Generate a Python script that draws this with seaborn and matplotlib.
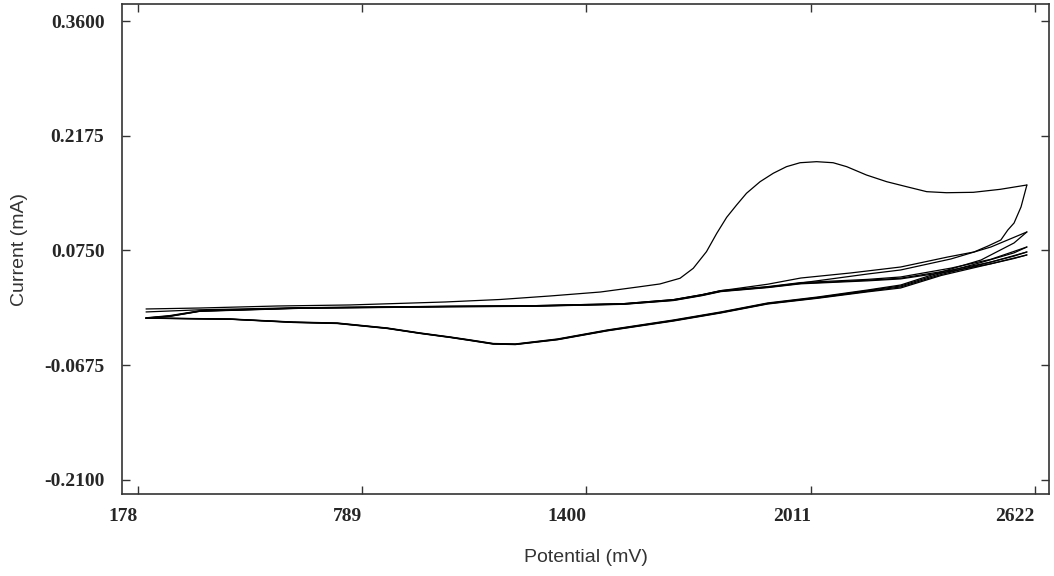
import matplotlib
matplotlib.use("Agg")
import matplotlib.pyplot as plt
import seaborn as sns

# cyclic voltammogram, 5 cycles between 200 and 2600 mV
# cycle 1 forward (big oxidation peak)
f1_mv = [200, 347, 557, 756, 1015, 1165, 1302, 1438, 1546, 1600, 1655, 1691, 1727, 1755,
         1782, 1809, 1836, 1873, 1909, 1945, 1982, 2027, 2072, 2109, 2163, 2218, 2272,
         2327, 2381, 2454, 2527, 2600]
f1_ma = [0.0022, 0.0034, 0.0059, 0.0072, 0.0109, 0.0140, 0.0184, 0.0233, 0.0299, 0.0333,
         0.0404, 0.0528, 0.0735, 0.0963, 0.1162, 0.1315, 0.1461, 0.1605, 0.1710, 0.1792,
         0.1841, 0.1854, 0.1841, 0.1792, 0.1688, 0.1605, 0.1543, 0.1481, 0.1468, 0.1473,
         0.1510, 0.1564]

# cycle 1 reverse
r1_mv = [2600, 2584, 2565, 2548, 2529, 2494, 2456, 2385, 2256, 2120, 1984, 1894, 1801,
         1766, 1715, 1637, 1501, 1247, 1029, 620, 347, 200]
r1_ma = [0.1564, 0.1291, 0.1091, 0.1004, 0.0880, 0.0805, 0.0731, 0.0669, 0.0544, 0.0470,
         0.0407, 0.0330, 0.0271, 0.0250, 0.0200, 0.0138, 0.0088, 0.0062, 0.0056, 0.0038,
         0.0012, -0.0015]

# forward sweeps, cycles 2-5
fwd_mv = [200, 265, 347, 620, 1029, 1247, 1501, 1637, 1715, 1766, 1894, 1984, 2166, 2256,
          2393, 2502, 2600]
f2_ma = [-0.0090, -0.0065, -0.0003, 0.0034, 0.0053, 0.0059, 0.0084, 0.0134, 0.0196, 0.0246,
         0.0296, 0.0345, 0.0457, 0.0507, 0.0644, 0.0793, 0.0980]
f3_ma = [-0.0088, -0.0060, 0.0000, 0.0036, 0.0055, 0.0062, 0.0088, 0.0138, 0.0200, 0.0250,
         0.0300, 0.0350, 0.0390, 0.0420, 0.0530, 0.0640, 0.0793]
f4_ma = [-0.0092, -0.0068, -0.0005, 0.0032, 0.0051, 0.0057, 0.0082, 0.0130, 0.0192, 0.0242,
         0.0292, 0.0340, 0.0380, 0.0405, 0.0505, 0.0605, 0.0731]
f5_ma = [-0.0094, -0.0070, -0.0007, 0.0030, 0.0049, 0.0055, 0.0080, 0.0127, 0.0188, 0.0238,
         0.0288, 0.0335, 0.0372, 0.0396, 0.0490, 0.0585, 0.0694]

# reverse sweeps, cycles 2-5 (reduction wave near 1200 mV)
rev_mv = [2600, 2565, 2475, 2366, 2256, 2166, 2030, 1894, 1766, 1637, 1457, 1321, 1206,
          1146, 1084, 1029, 947, 857, 721, 601, 429, 200]
r2_ma = [0.0980, 0.0843, 0.0631, 0.0482, 0.0320, 0.0258, 0.0171, 0.0097, -0.0015, -0.0115,
         -0.0239, -0.0351, -0.0413, -0.0407, -0.0363, -0.0326, -0.0276, -0.0214, -0.0152,
         -0.0140, -0.0102, -0.0090]
r3_ma = [0.0793, 0.0720, 0.0600, 0.0465, 0.0308, 0.0250, 0.0165, 0.0092, -0.0020, -0.0120,
         -0.0243, -0.0355, -0.0416, -0.0410, -0.0366, -0.0329, -0.0279, -0.0217, -0.0155,
         -0.0142, -0.0104, -0.0091]
r4_ma = [0.0731, 0.0680, 0.0575, 0.0450, 0.0296, 0.0242, 0.0160, 0.0088, -0.0024, -0.0124,
         -0.0247, -0.0358, -0.0419, -0.0413, -0.0369, -0.0331, -0.0281, -0.0219, -0.0157,
         -0.0144, -0.0105, -0.0092]
r5_ma = [0.0694, 0.0650, 0.0555, 0.0438, 0.0283, 0.0235, 0.0155, 0.0084, -0.0028, -0.0128,
         -0.0250, -0.0361, -0.0421, -0.0415, -0.0371, -0.0333, -0.0283, -0.0221, -0.0159,
         -0.0146, -0.0106, -0.0093]

x_ticks = [178, 789, 1400, 2011, 2622]
y_ticks = [-0.2100, -0.0675, 0.0750, 0.2175, 0.3600]

sns.set_style("white")

fig, ax = plt.subplots(figsize=(10.54, 5.76), dpi=100)
fig.subplots_adjust(left=0.1162, right=0.9957, top=0.9922, bottom=0.1424)

sweeps = [(f1_mv, f1_ma), (r1_mv, r1_ma),
          (fwd_mv, f2_ma), (rev_mv, r2_ma),
          (fwd_mv, f3_ma), (rev_mv, r3_ma),
          (fwd_mv, f4_ma), (rev_mv, r4_ma),
          (fwd_mv, f5_ma), (rev_mv, r5_ma)]
for mv, ma in sweeps:
    sns.lineplot(x=mv, y=ma, sort=False, estimator=None, color="black",
                 linewidth=0.9, ax=ax)

ax.set_xlim(135.8, 2661.5)
ax.set_ylim(-0.2279, 0.3809)
ax.set_xticks(x_ticks)
ax.set_xticklabels([str(v) for v in x_ticks], ha="right")
ax.set_yticks(y_ticks)
ax.set_yticklabels([f"{v:.4f}" for v in y_ticks])

ax.tick_params(direction="in", length=6, width=1, color="#333333",
               top=True, right=True, bottom=True, left=True)
ax.tick_params(axis="x", pad=10)
ax.tick_params(axis="y", pad=13)
for lab in ax.get_xticklabels() + ax.get_yticklabels():
    lab.set_fontfamily("Liberation Serif")
    lab.set_fontweight("bold")
    lab.set_fontsize(14)

for sp in ax.spines.values():
    sp.set_color("#333333")
    sp.set_linewidth(1.2)

ax.set_xlabel("Potential (mV)", family="Liberation Sans", fontsize=14, color="#333333")
ax.set_ylabel("Current (mA)", family="Liberation Sans", fontsize=14, color="#333333")
ax.xaxis.label.set_va("center")
ax.yaxis.label.set_va("center")
ax.xaxis.set_label_coords(0.5, -0.1307)
ax.yaxis.set_label_coords(-0.1106, 0.5)

fig.savefig("out.png", dpi=100)
